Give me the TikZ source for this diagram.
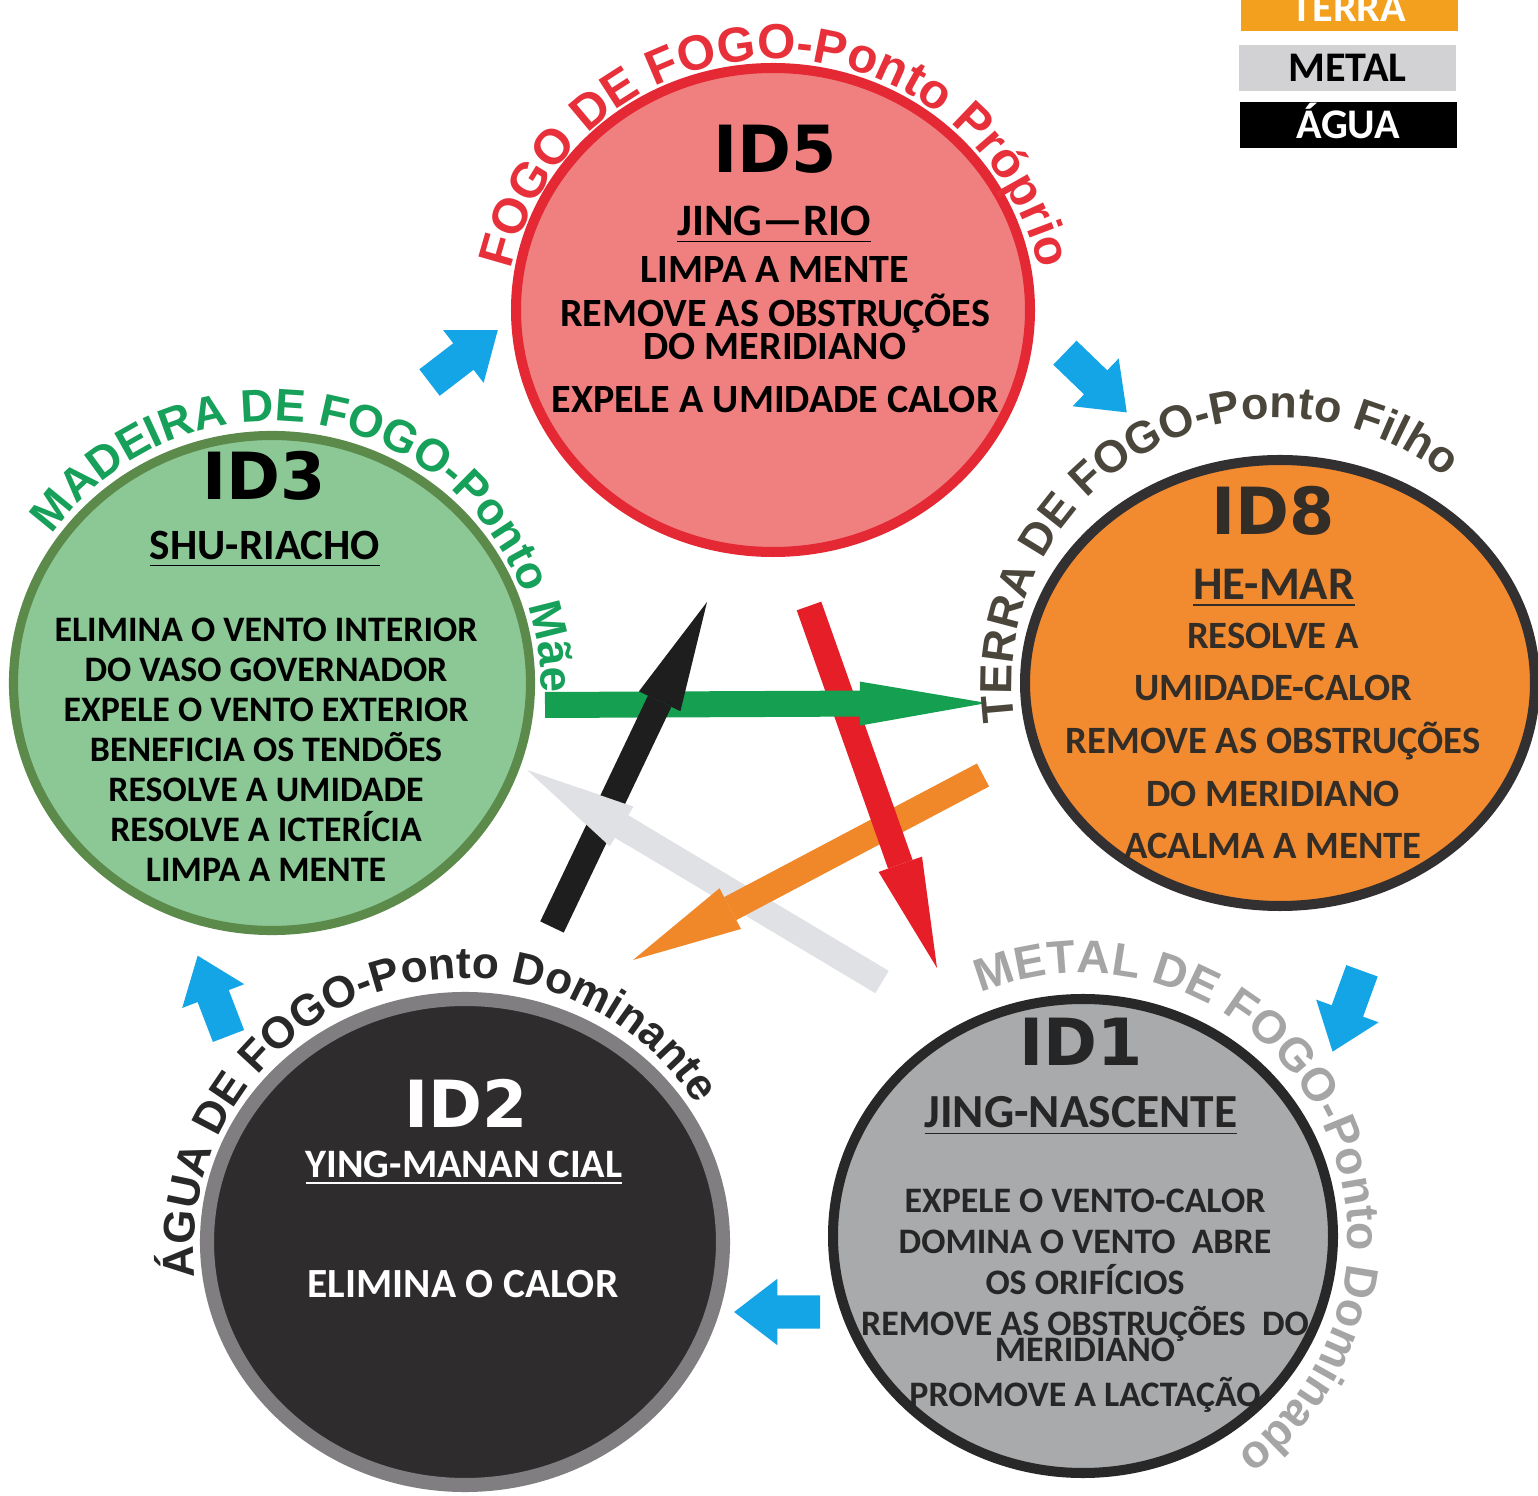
\documentclass[tikz,border=0pt]{standalone}
\usepackage{fontspec}
\setmainfont{Carlito}
\newfontfamily\arcfont{Liberation Sans}
\newfontfamily\idfont{DejaVu Sans}
\usepackage{xcolor}
\usepackage{tikz}
\usetikzlibrary{arrows.meta,shapes.geometric,shapes.arrows,decorations.text}

\definecolor{firefill}{RGB}{240,128,128}
\definecolor{fireline}{RGB}{228,40,52}
\definecolor{woodfill}{RGB}{140,200,150}
\definecolor{woodline}{RGB}{92,138,74}
\definecolor{earthfill}{RGB}{242,138,48}
\definecolor{earthline}{RGB}{50,48,48}
\definecolor{waterfill}{RGB}{46,44,45}
\definecolor{waterline}{RGB}{128,126,128}
\definecolor{metalfill}{RGB}{169,170,172}
\definecolor{metalline}{RGB}{40,40,40}
\definecolor{firetext}{RGB}{232,48,58}
\definecolor{woodtext}{RGB}{22,160,90}
\definecolor{earthtext}{RGB}{75,70,60}
\definecolor{metaltext}{RGB}{165,165,165}
\definecolor{watertext}{RGB}{40,40,40}
\definecolor{earthdark}{RGB}{51,45,40}
\definecolor{arrowgreen}{RGB}{20,160,80}
\definecolor{arrowblack}{RGB}{30,30,30}
\definecolor{arrowred}{RGB}{230,30,40}
\definecolor{arroworange}{RGB}{240,135,40}
\definecolor{arrowgrey}{RGB}{224,225,228}
\definecolor{arrowblue}{RGB}{20,165,230}
\definecolor{legendterra}{RGB}{242,160,30}
\definecolor{legendmetal}{RGB}{210,210,212}

\begin{document}
\begin{tikzpicture}[
  disc/.style={ellipse,inner sep=0pt},
  idlabel/.style={anchor=base,inner sep=0pt,font=\idfont\bfseries\fontsize{18.5}{20}\selectfont},
  pointname/.style={anchor=base,inner sep=0pt,font=\bfseries\fontsize{#1}{#1}\selectfont},
  effects/.style={anchor=north,align=center,inner sep=0pt},
  cycle arrow/.style={single arrow,fill=arrowblue,inner sep=0.16cm,minimum height=0.86cm,
    single arrow head extend=0.165cm,single arrow tip angle=75},
  star arrow/.style={line width=0.26cm,-{Triangle[length=1.1cm,width=0.46cm,line width=0pt]}},
  legendbox/.style={minimum width=2.17cm,minimum height=0.46cm,inner sep=0pt,
    text height=7.7pt,text depth=0pt,font=\bfseries\fontsize{12}{12}\selectfont},
  arclabel/.style n args={3}{decorate,decoration={text along path,text align=center,
    text color=#1,text={|\arcfont\bfseries\fontsize{#2}{#2}\selectfont|#3}}}
]
  \useasboundingbox[fill=white] (0,0) rectangle (15.38,-14.96);

  \node[disc,draw=fireline,fill=firefill,line width=2.85pt,minimum width=5.14cm,minimum height=4.84cm] (id5) at (7.73,-3.10) {};
  \node[disc,draw=woodline,fill=woodfill,line width=2.6pt,minimum width=5.17cm,minimum height=4.95cm] (id3) at (2.72,-6.83) {};
  \node[disc,draw=earthline,fill=earthfill,line width=2.85pt,minimum width=5.10cm,minimum height=4.46cm] (id8) at (12.80,-6.83) {};
  \node[disc,draw=waterline,fill=waterfill,line width=4pt,minimum width=5.16cm,minimum height=4.86cm] (id2) at (4.65,-12.42) {};
  \node[disc,draw=metalline,fill=metalfill,line width=2.85pt,minimum width=5.00cm,minimum height=4.74cm] (id1) at (10.83,-12.36) {};

  \node[idlabel] (t5) at (7.75,-1.73) {ID5};
  \node[pointname=12.8] (s5) at (7.74,-2.36) {\underline{JING—RIO}};
  \node[effects,font=\bfseries\fontsize{11.4}{9.4}\selectfont] (e5) at (7.75,-2.56)
    {LIMPA A MENTE\\[3.1pt]REMOVE AS OBSTRUÇÕES\\DO MERIDIANO\\[5.7pt]EXPELE A UMIDADE CALOR};

  \node[idlabel] (t3) at (2.64,-5.00) {ID3};
  \node[pointname=12.3] (s3) at (2.65,-5.60) {\underline{SHU-RIACHO}};
  \node[effects,font=\bfseries\fontsize{10.2}{11.4}\selectfont] (e3) at (2.66,-6.17)
    {ELIMINA O VENTO INTERIOR\\DO VASO GOVERNADOR\\EXPELE O VENTO EXTERIOR\\BENEFICIA OS TENDÕES\\RESOLVE A UMIDADE\\RESOLVE A ICTERÍCIA\\LIMPA A MENTE};

  \node[idlabel,text=earthdark] (t8) at (12.73,-5.35) {ID8};
  \node[pointname=13.3,text=earthdark] (s8) at (12.74,-6.00) {\underline{HE-MAR}};
  \node[effects,text=earthdark,font=\bfseries\fontsize{11}{15}\selectfont] (e8) at (12.73,-6.22)
    {RESOLVE A\\UMIDADE-CALOR\\REMOVE AS OBSTRUÇÕES\\DO MERIDIANO\\ACALMA A MENTE};

  \node[idlabel,text=white] (t2) at (4.66,-11.28) {ID2};
  \node[pointname=11.5,text=white] (s2) at (4.64,-11.78) {\underline{YING-MANAN CIAL}};
  \node[pointname=11.8,text=white] (e2) at (4.63,-12.98) {ELIMINA O CALOR};

  \node[idlabel,text=black!85] (t1) at (10.81,-10.66) {ID1};
  \node[pointname=13.5,text=black!85] (s1) at (10.81,-11.28) {\underline{JING-NASCENTE}};
  \node[effects,text=black!85,font=\bfseries\fontsize{10.2}{11.7}\selectfont] (e1) at (10.85,-11.88)
    {EXPELE O VENTO-CALOR\\DOMINA O VENTO\ \ ABRE\\OS ORIFÍCIOS\\REMOVE AS OBSTRUÇÕES\ \ DO\\[-4.3pt]MERIDIANO\\[1.1pt]PROMOVE A LACTAÇÃO};

  \node[cycle arrow,rotate=37.5] (c35) at (4.55,-3.63) {};
  \node[cycle arrow,rotate=-44] (c58) at (10.88,-3.75) {};
  \node[cycle arrow,rotate=-110] (c81) at (13.51,-10.01) {};
  \node[cycle arrow,rotate=180] (c12) at (7.88,-13.12) {};
  \node[cycle arrow,rotate=111] (c23) at (2.17,-10.06) {};

  \coordinate (g0) at (5.45,-7.05);
  \coordinate (g1) at (9.87,-7.03);
  \coordinate (k0) at (5.52,-9.27);
  \coordinate (k1) at (7.07,-6.02);
  \coordinate (r0) at (8.09,-6.06);
  \coordinate (r1) at (9.37,-9.68);
  \coordinate (o0) at (9.83,-7.75);
  \coordinate (o1) at (6.33,-9.60);
  \coordinate (w0) at (8.82,-9.82);
  \coordinate (w1) at (5.27,-7.70);
  \draw[star arrow,arrowgrey] (w0) -- (w1);
  \draw[star arrow,arroworange] (o0) -- (o1);
  \draw[star arrow,arrowred] (r0) -- (r1);
  \draw[star arrow,arrowgreen,-{Triangle[length=1.27cm,width=0.44cm,line width=0pt]}] (g0) -- (g1);
  \draw[star arrow,arrowblack] (k0) -- (k1);
  \begin{scope}
    \clip (6.05,-8.16) circle (0.38);
    \draw[star arrow,arrowgrey] (w0) -- (w1);
  \end{scope}

  \path[arclabel={firetext}{14}{FOGO DE FOGO-Ponto Próprio}] (7.75,-3.30) ++(190:2.71) arc[start angle=190,end angle=-10,radius=2.71];
  \path[arclabel={woodtext}{13}{MADEIRA DE FOGO-Ponto Mãe}] (2.72,-6.90) ++(172:2.69) arc[start angle=172,end angle=-28,radius=2.69];
  \path[arclabel={earthtext}{12.8}{TERRA DE FOGO-Ponto Filho}] (12.78,-6.84) ++(219.5:2.66) arc[start angle=219.5,end angle=19.5,radius=2.66];
  \path[arclabel={metaltext}{13.2}{METAL DE FOGO-Ponto Dominado}] (10.83,-12.38) ++(129:2.65) arc[start angle=129,end angle=-71,radius=2.65];
  \path[arclabel={watertext}{12.6}{ÁGUA DE FOGO-Ponto Dominante}] (4.66,-12.50) ++(209:2.72) arc[start angle=209,end angle=9,radius=2.72];

  \node[legendbox,fill=legendterra,text=white] (terra) at (13.49,-0.08) {TERRA};
  \node[legendbox,fill=legendmetal,text=black] (metal) at (13.475,-0.68) {METAL};
  \node[legendbox,fill=black,text=white] (agua) at (13.48,-1.25) {ÁGUA};
\end{tikzpicture}
\end{document}
